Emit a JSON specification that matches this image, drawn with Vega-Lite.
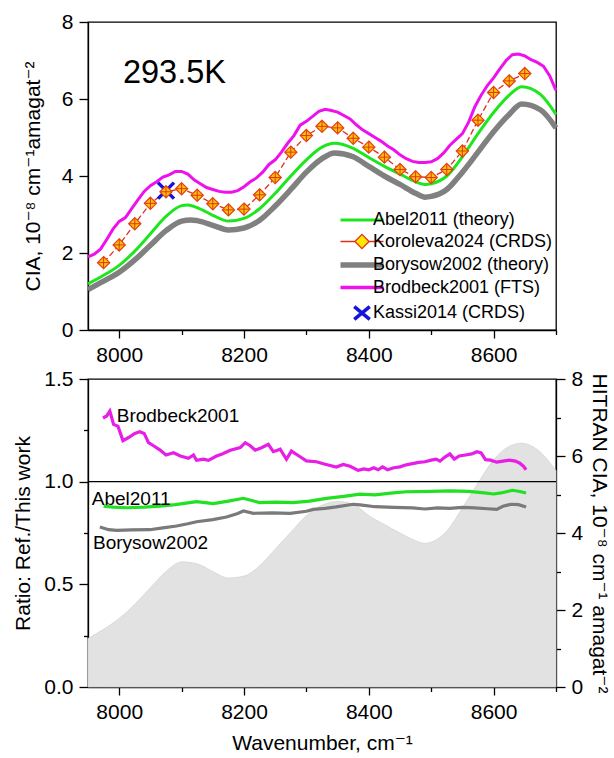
{
  "$schema": "https://vega.github.io/schema/vega-lite/v6.json",
  "background": "white",
  "padding": {"left": 12, "top": 10, "right": 2, "bottom": 2},
  "config": {
    "font": "Liberation Sans, DejaVu Sans",
    "view": {"stroke": "black", "strokeWidth": 1.3},
    "axis": {
      "domainColor": "black", "tickColor": "black", "labelColor": "black", "titleColor": "black",
      "labelFontSize": 21, "titleFontSize": 21, "titleFontWeight": "normal",
      "labelFont": "Liberation Sans, DejaVu Sans", "titleFont": "Liberation Sans, DejaVu Sans",
      "grid": false, "domainWidth": 1.3, "tickWidth": 1.3, "labelPadding": 6,
      "labelFlush": false, "labelOverlap": false
    },
    "text": {"font": "Liberation Sans, DejaVu Sans"}
  },
  "datasets": {
    "abel": [
      {"wn": 7950, "v": 1.20}, {"wn": 7975, "v": 1.42}, {"wn": 8000, "v": 1.68}, {"wn": 8025, "v": 2.05},
      {"wn": 8050, "v": 2.50}, {"wn": 8075, "v": 2.95}, {"wn": 8100, "v": 3.23}, {"wn": 8110, "v": 3.25},
      {"wn": 8125, "v": 3.18}, {"wn": 8150, "v": 2.98}, {"wn": 8175, "v": 2.83}, {"wn": 8200, "v": 2.90},
      {"wn": 8225, "v": 3.15}, {"wn": 8250, "v": 3.55}, {"wn": 8275, "v": 4.00}, {"wn": 8300, "v": 4.42},
      {"wn": 8325, "v": 4.75}, {"wn": 8345, "v": 4.85}, {"wn": 8375, "v": 4.72}, {"wn": 8400, "v": 4.48},
      {"wn": 8425, "v": 4.25}, {"wn": 8450, "v": 4.05}, {"wn": 8475, "v": 3.85}, {"wn": 8490, "v": 3.78},
      {"wn": 8500, "v": 3.80}, {"wn": 8525, "v": 4.00}, {"wn": 8550, "v": 4.50}, {"wn": 8575, "v": 5.10},
      {"wn": 8600, "v": 5.65}, {"wn": 8625, "v": 6.10}, {"wn": 8645, "v": 6.32}, {"wn": 8675, "v": 6.12},
      {"wn": 8700, "v": 5.60}
    ],
    "borysow": [
      {"wn": 7950, "v": 1.05}, {"wn": 7975, "v": 1.27}, {"wn": 8000, "v": 1.50}, {"wn": 8025, "v": 1.82},
      {"wn": 8050, "v": 2.20}, {"wn": 8075, "v": 2.58}, {"wn": 8100, "v": 2.83}, {"wn": 8115, "v": 2.86},
      {"wn": 8125, "v": 2.84}, {"wn": 8150, "v": 2.72}, {"wn": 8175, "v": 2.60}, {"wn": 8200, "v": 2.65},
      {"wn": 8225, "v": 2.85}, {"wn": 8250, "v": 3.22}, {"wn": 8275, "v": 3.65}, {"wn": 8300, "v": 4.10},
      {"wn": 8325, "v": 4.45}, {"wn": 8345, "v": 4.60}, {"wn": 8375, "v": 4.50}, {"wn": 8400, "v": 4.25},
      {"wn": 8425, "v": 4.00}, {"wn": 8450, "v": 3.78}, {"wn": 8475, "v": 3.55}, {"wn": 8490, "v": 3.45},
      {"wn": 8500, "v": 3.47}, {"wn": 8525, "v": 3.65}, {"wn": 8550, "v": 4.10}, {"wn": 8575, "v": 4.62},
      {"wn": 8600, "v": 5.15}, {"wn": 8625, "v": 5.60}, {"wn": 8645, "v": 5.87}, {"wn": 8675, "v": 5.72},
      {"wn": 8700, "v": 5.25}
    ],
    "brodbeck": [
      {"wn": 7950, "v": 1.90}, {"wn": 7960, "v": 1.97}, {"wn": 7970, "v": 2.10}, {"wn": 7980, "v": 2.35},
      {"wn": 7990, "v": 2.62}, {"wn": 8000, "v": 2.82}, {"wn": 8010, "v": 2.92}, {"wn": 8020, "v": 3.15},
      {"wn": 8030, "v": 3.38}, {"wn": 8040, "v": 3.60}, {"wn": 8050, "v": 3.75}, {"wn": 8060, "v": 3.85},
      {"wn": 8070, "v": 3.97}, {"wn": 8080, "v": 4.03}, {"wn": 8090, "v": 4.12}, {"wn": 8100, "v": 4.12},
      {"wn": 8110, "v": 4.05}, {"wn": 8120, "v": 3.90}, {"wn": 8130, "v": 3.80}, {"wn": 8140, "v": 3.70},
      {"wn": 8150, "v": 3.65}, {"wn": 8160, "v": 3.60}, {"wn": 8170, "v": 3.58}, {"wn": 8180, "v": 3.58},
      {"wn": 8190, "v": 3.62}, {"wn": 8200, "v": 3.72}, {"wn": 8210, "v": 3.85}, {"wn": 8220, "v": 3.95},
      {"wn": 8230, "v": 4.10}, {"wn": 8240, "v": 4.30}, {"wn": 8250, "v": 4.42}, {"wn": 8260, "v": 4.62},
      {"wn": 8270, "v": 4.85}, {"wn": 8280, "v": 5.05}, {"wn": 8290, "v": 5.32}, {"wn": 8300, "v": 5.42},
      {"wn": 8310, "v": 5.55}, {"wn": 8320, "v": 5.68}, {"wn": 8330, "v": 5.73}, {"wn": 8340, "v": 5.70},
      {"wn": 8350, "v": 5.66}, {"wn": 8360, "v": 5.57}, {"wn": 8370, "v": 5.48}, {"wn": 8380, "v": 5.33},
      {"wn": 8390, "v": 5.20}, {"wn": 8400, "v": 5.10}, {"wn": 8410, "v": 5.00}, {"wn": 8420, "v": 4.90},
      {"wn": 8430, "v": 4.78}, {"wn": 8440, "v": 4.68}, {"wn": 8450, "v": 4.55}, {"wn": 8460, "v": 4.45},
      {"wn": 8470, "v": 4.38}, {"wn": 8480, "v": 4.35}, {"wn": 8490, "v": 4.35}, {"wn": 8500, "v": 4.37},
      {"wn": 8510, "v": 4.45}, {"wn": 8520, "v": 4.60}, {"wn": 8530, "v": 4.80}, {"wn": 8540, "v": 4.95},
      {"wn": 8550, "v": 5.10}, {"wn": 8560, "v": 5.40}, {"wn": 8570, "v": 5.80}, {"wn": 8580, "v": 6.10},
      {"wn": 8590, "v": 6.35}, {"wn": 8600, "v": 6.55}, {"wn": 8610, "v": 6.78}, {"wn": 8620, "v": 7.00},
      {"wn": 8630, "v": 7.15}, {"wn": 8640, "v": 7.17}, {"wn": 8650, "v": 7.12}, {"wn": 8660, "v": 7.02},
      {"wn": 8670, "v": 6.95}, {"wn": 8680, "v": 6.85}, {"wn": 8690, "v": 6.60}, {"wn": 8700, "v": 6.22}
    ],
    "koroleva": [
      {"wn": 7975, "v": 1.75}, {"wn": 8000, "v": 2.21}, {"wn": 8025, "v": 2.76}, {"wn": 8050, "v": 3.29},
      {"wn": 8075, "v": 3.59}, {"wn": 8100, "v": 3.67}, {"wn": 8125, "v": 3.50}, {"wn": 8150, "v": 3.28},
      {"wn": 8175, "v": 3.12}, {"wn": 8200, "v": 3.14}, {"wn": 8225, "v": 3.51}, {"wn": 8250, "v": 3.96},
      {"wn": 8275, "v": 4.62}, {"wn": 8300, "v": 5.05}, {"wn": 8325, "v": 5.29}, {"wn": 8350, "v": 5.25},
      {"wn": 8375, "v": 4.98}, {"wn": 8400, "v": 4.75}, {"wn": 8425, "v": 4.49}, {"wn": 8450, "v": 4.17},
      {"wn": 8475, "v": 3.98}, {"wn": 8500, "v": 3.96}, {"wn": 8525, "v": 4.17}, {"wn": 8550, "v": 4.65},
      {"wn": 8575, "v": 5.45}, {"wn": 8600, "v": 6.17}, {"wn": 8625, "v": 6.47}, {"wn": 8650, "v": 6.66}
    ],
    "kassi": [{"wn": 8075, "v": 3.62}],
    "hitran": [
      {"wn": 7950, "v": 1.26}, {"wn": 7975, "v": 1.50}, {"wn": 8000, "v": 1.78}, {"wn": 8025, "v": 2.15},
      {"wn": 8050, "v": 2.58}, {"wn": 8075, "v": 3.00}, {"wn": 8100, "v": 3.25}, {"wn": 8125, "v": 3.20},
      {"wn": 8150, "v": 3.00}, {"wn": 8175, "v": 2.83}, {"wn": 8200, "v": 2.88}, {"wn": 8225, "v": 3.15},
      {"wn": 8250, "v": 3.58}, {"wn": 8275, "v": 4.02}, {"wn": 8300, "v": 4.45}, {"wn": 8325, "v": 4.72},
      {"wn": 8350, "v": 4.82}, {"wn": 8375, "v": 4.75}, {"wn": 8400, "v": 4.45}, {"wn": 8425, "v": 4.22},
      {"wn": 8450, "v": 4.00}, {"wn": 8475, "v": 3.80}, {"wn": 8490, "v": 3.73}, {"wn": 8500, "v": 3.76},
      {"wn": 8525, "v": 4.05}, {"wn": 8550, "v": 4.65}, {"wn": 8575, "v": 5.30}, {"wn": 8600, "v": 5.90},
      {"wn": 8625, "v": 6.25}, {"wn": 8645, "v": 6.33}, {"wn": 8675, "v": 6.10}, {"wn": 8700, "v": 5.62}
    ],
    "labels": [
      {"name": "Brodbeck2001", "wn": 7996, "r": 1.32},
      {"name": "Abel2011", "wn": 7956, "r": 0.914},
      {"name": "Borysow2002", "wn": 7958, "r": 0.703}
    ],
    "ratio": [
      {"series": "Brodbeck2001", "wn": 7974, "r": 1.31}, {"series": "Brodbeck2001", "wn": 7980, "r": 1.32},
      {"series": "Brodbeck2001", "wn": 7985, "r": 1.344}, {"series": "Brodbeck2001", "wn": 7991, "r": 1.279},
      {"series": "Brodbeck2001", "wn": 7998, "r": 1.27}, {"series": "Brodbeck2001", "wn": 8006, "r": 1.20},
      {"series": "Brodbeck2001", "wn": 8015, "r": 1.215}, {"series": "Brodbeck2001", "wn": 8025, "r": 1.235},
      {"series": "Brodbeck2001", "wn": 8033, "r": 1.243}, {"series": "Brodbeck2001", "wn": 8040, "r": 1.235},
      {"series": "Brodbeck2001", "wn": 8047, "r": 1.19}, {"series": "Brodbeck2001", "wn": 8055, "r": 1.175},
      {"series": "Brodbeck2001", "wn": 8065, "r": 1.155}, {"series": "Brodbeck2001", "wn": 8075, "r": 1.13},
      {"series": "Brodbeck2001", "wn": 8087, "r": 1.141}, {"series": "Brodbeck2001", "wn": 8098, "r": 1.125},
      {"series": "Brodbeck2001", "wn": 8111, "r": 1.114}, {"series": "Brodbeck2001", "wn": 8119, "r": 1.13},
      {"series": "Brodbeck2001", "wn": 8124, "r": 1.104}, {"series": "Brodbeck2001", "wn": 8135, "r": 1.11},
      {"series": "Brodbeck2001", "wn": 8143, "r": 1.104}, {"series": "Brodbeck2001", "wn": 8156, "r": 1.125},
      {"series": "Brodbeck2001", "wn": 8165, "r": 1.135}, {"series": "Brodbeck2001", "wn": 8178, "r": 1.153},
      {"series": "Brodbeck2001", "wn": 8194, "r": 1.166}, {"series": "Brodbeck2001", "wn": 8202, "r": 1.19},
      {"series": "Brodbeck2001", "wn": 8210, "r": 1.175}, {"series": "Brodbeck2001", "wn": 8218, "r": 1.153},
      {"series": "Brodbeck2001", "wn": 8228, "r": 1.165}, {"series": "Brodbeck2001", "wn": 8239, "r": 1.182},
      {"series": "Brodbeck2001", "wn": 8247, "r": 1.146}, {"series": "Brodbeck2001", "wn": 8258, "r": 1.158},
      {"series": "Brodbeck2001", "wn": 8268, "r": 1.109}, {"series": "Brodbeck2001", "wn": 8276, "r": 1.149},
      {"series": "Brodbeck2001", "wn": 8288, "r": 1.125}, {"series": "Brodbeck2001", "wn": 8300, "r": 1.101},
      {"series": "Brodbeck2001", "wn": 8316, "r": 1.097}, {"series": "Brodbeck2001", "wn": 8330, "r": 1.085},
      {"series": "Brodbeck2001", "wn": 8348, "r": 1.071}, {"series": "Brodbeck2001", "wn": 8359, "r": 1.084},
      {"series": "Brodbeck2001", "wn": 8370, "r": 1.075}, {"series": "Brodbeck2001", "wn": 8383, "r": 1.055},
      {"series": "Brodbeck2001", "wn": 8392, "r": 1.062}, {"series": "Brodbeck2001", "wn": 8400, "r": 1.058},
      {"series": "Brodbeck2001", "wn": 8408, "r": 1.068}, {"series": "Brodbeck2001", "wn": 8415, "r": 1.058},
      {"series": "Brodbeck2001", "wn": 8422, "r": 1.072}, {"series": "Brodbeck2001", "wn": 8430, "r": 1.058},
      {"series": "Brodbeck2001", "wn": 8440, "r": 1.068}, {"series": "Brodbeck2001", "wn": 8450, "r": 1.072},
      {"series": "Brodbeck2001", "wn": 8460, "r": 1.082}, {"series": "Brodbeck2001", "wn": 8470, "r": 1.088},
      {"series": "Brodbeck2001", "wn": 8480, "r": 1.094}, {"series": "Brodbeck2001", "wn": 8490, "r": 1.097},
      {"series": "Brodbeck2001", "wn": 8500, "r": 1.105}, {"series": "Brodbeck2001", "wn": 8508, "r": 1.11},
      {"series": "Brodbeck2001", "wn": 8514, "r": 1.10}, {"series": "Brodbeck2001", "wn": 8522, "r": 1.12},
      {"series": "Brodbeck2001", "wn": 8530, "r": 1.135}, {"series": "Brodbeck2001", "wn": 8537, "r": 1.11},
      {"series": "Brodbeck2001", "wn": 8545, "r": 1.125}, {"series": "Brodbeck2001", "wn": 8555, "r": 1.13},
      {"series": "Brodbeck2001", "wn": 8565, "r": 1.135}, {"series": "Brodbeck2001", "wn": 8573, "r": 1.146},
      {"series": "Brodbeck2001", "wn": 8580, "r": 1.14}, {"series": "Brodbeck2001", "wn": 8587, "r": 1.107},
      {"series": "Brodbeck2001", "wn": 8595, "r": 1.105}, {"series": "Brodbeck2001", "wn": 8605, "r": 1.095},
      {"series": "Brodbeck2001", "wn": 8615, "r": 1.10}, {"series": "Brodbeck2001", "wn": 8625, "r": 1.105},
      {"series": "Brodbeck2001", "wn": 8635, "r": 1.10}, {"series": "Brodbeck2001", "wn": 8642, "r": 1.09},
      {"series": "Brodbeck2001", "wn": 8648, "r": 1.075}, {"series": "Brodbeck2001", "wn": 8652, "r": 1.058},
      {"series": "Abel2011", "wn": 7975, "r": 0.881}, {"series": "Abel2011", "wn": 7990, "r": 0.876},
      {"series": "Abel2011", "wn": 8012, "r": 0.873}, {"series": "Abel2011", "wn": 8040, "r": 0.876},
      {"series": "Abel2011", "wn": 8065, "r": 0.881}, {"series": "Abel2011", "wn": 8090, "r": 0.888},
      {"series": "Abel2011", "wn": 8110, "r": 0.897}, {"series": "Abel2011", "wn": 8124, "r": 0.903},
      {"series": "Abel2011", "wn": 8151, "r": 0.893}, {"series": "Abel2011", "wn": 8175, "r": 0.905},
      {"series": "Abel2011", "wn": 8199, "r": 0.919}, {"series": "Abel2011", "wn": 8225, "r": 0.898},
      {"series": "Abel2011", "wn": 8250, "r": 0.90}, {"series": "Abel2011", "wn": 8279, "r": 0.898},
      {"series": "Abel2011", "wn": 8305, "r": 0.905}, {"series": "Abel2011", "wn": 8332, "r": 0.919},
      {"series": "Abel2011", "wn": 8360, "r": 0.928}, {"series": "Abel2011", "wn": 8386, "r": 0.939},
      {"series": "Abel2011", "wn": 8410, "r": 0.936}, {"series": "Abel2011", "wn": 8435, "r": 0.944},
      {"series": "Abel2011", "wn": 8460, "r": 0.951}, {"series": "Abel2011", "wn": 8500, "r": 0.953},
      {"series": "Abel2011", "wn": 8530, "r": 0.955}, {"series": "Abel2011", "wn": 8560, "r": 0.953},
      {"series": "Abel2011", "wn": 8585, "r": 0.945}, {"series": "Abel2011", "wn": 8600, "r": 0.94},
      {"series": "Abel2011", "wn": 8612, "r": 0.945}, {"series": "Abel2011", "wn": 8630, "r": 0.958},
      {"series": "Abel2011", "wn": 8642, "r": 0.952}, {"series": "Abel2011", "wn": 8652, "r": 0.945},
      {"series": "Borysow2002", "wn": 7969, "r": 0.779}, {"series": "Borysow2002", "wn": 7983, "r": 0.766},
      {"series": "Borysow2002", "wn": 7996, "r": 0.763}, {"series": "Borysow2002", "wn": 8020, "r": 0.765},
      {"series": "Borysow2002", "wn": 8049, "r": 0.766}, {"series": "Borysow2002", "wn": 8070, "r": 0.775},
      {"series": "Borysow2002", "wn": 8092, "r": 0.784}, {"series": "Borysow2002", "wn": 8110, "r": 0.795},
      {"series": "Borysow2002", "wn": 8124, "r": 0.805}, {"series": "Borysow2002", "wn": 8150, "r": 0.815},
      {"series": "Borysow2002", "wn": 8172, "r": 0.828}, {"series": "Borysow2002", "wn": 8190, "r": 0.845},
      {"series": "Borysow2002", "wn": 8199, "r": 0.857}, {"series": "Borysow2002", "wn": 8215, "r": 0.846},
      {"series": "Borysow2002", "wn": 8245, "r": 0.848}, {"series": "Borysow2002", "wn": 8274, "r": 0.846},
      {"series": "Borysow2002", "wn": 8300, "r": 0.856}, {"series": "Borysow2002", "wn": 8311, "r": 0.865},
      {"series": "Borysow2002", "wn": 8330, "r": 0.87}, {"series": "Borysow2002", "wn": 8348, "r": 0.877},
      {"series": "Borysow2002", "wn": 8375, "r": 0.89}, {"series": "Borysow2002", "wn": 8386, "r": 0.887},
      {"series": "Borysow2002", "wn": 8410, "r": 0.878}, {"series": "Borysow2002", "wn": 8440, "r": 0.875},
      {"series": "Borysow2002", "wn": 8470, "r": 0.872}, {"series": "Borysow2002", "wn": 8490, "r": 0.867},
      {"series": "Borysow2002", "wn": 8510, "r": 0.872}, {"series": "Borysow2002", "wn": 8530, "r": 0.87},
      {"series": "Borysow2002", "wn": 8550, "r": 0.875}, {"series": "Borysow2002", "wn": 8570, "r": 0.872},
      {"series": "Borysow2002", "wn": 8590, "r": 0.868}, {"series": "Borysow2002", "wn": 8605, "r": 0.865},
      {"series": "Borysow2002", "wn": 8615, "r": 0.88}, {"series": "Borysow2002", "wn": 8628, "r": 0.89},
      {"series": "Borysow2002", "wn": 8640, "r": 0.888}, {"series": "Borysow2002", "wn": 8652, "r": 0.877}
    ]
  },
  "vconcat": [
    {
      "width": 468,
      "height": 308,
      "layer": [
        {
          "data": {"name": "borysow"},
          "mark": {"type": "line", "strokeWidth": 5.5, "interpolate": "monotone"},
          "encoding": {
            "x": {"field": "wn", "type": "quantitative", "scale": {"domain": [7950, 8700], "nice": false, "zero": false},
              "axis": {"title": null, "values": [8000, 8100, 8200, 8300, 8400, 8500, 8600, 8700], "format": "d",
                "labelExpr": "datum.value % 200 === 0 ? datum.label : ''",
                "tickSize": {"condition": {"test": "datum.value % 200 === 0", "value": 8}, "value": 4.5}}},
            "y": {"field": "v", "type": "quantitative", "scale": {"domain": [0, 8], "nice": false},
              "axis": {"title": "CIA, 10⁻⁸ cm⁻¹amagat⁻²", "values": [0, 1, 2, 3, 4, 5, 6, 7, 8],
                "labelExpr": "datum.value % 2 === 0 ? datum.label : ''", "titlePadding": 18,
                "tickSize": {"condition": {"test": "datum.value % 2 === 0", "value": 9}, "value": 4.5}}},
            "stroke": {"datum": "Borysow2002 (theory)", "type": "nominal",
              "scale": {"domain": ["Abel2011 (theory)", "Koroleva2024 (CRDS)", "Borysow2002 (theory)", "Brodbeck2001 (FTS)", "Kassi2014 (CRDS)"],
                "range": ["#1ee61e", "#e0301c", "#808080", "#ee11ee", "#1414dc"]},
              "legend": {
                "title": null, "orient": "bottom-right", "offset": 3, "labelFontSize": 18, "labelColor": "black",
                "labelFont": "Liberation Sans, DejaVu Sans", "labelLimit": 400, "symbolSize": 1849, "symbolStrokeWidth": 2,
                "labelOffset": 2, "rowPadding": 2.5, "padding": 0,
                "encode": {
                  "symbols": {
                    "update": {
                      "shape": {"signal": "datum.value === 'Kassi2014 (CRDS)' ? 'M-0.36,-0.3L0.36,0.3M-0.36,0.3L0.36,-0.3' : (datum.value === 'Koroleva2024 (CRDS)' ? 'M-1,0H-0.33M0.33,0H1M0,-0.33L0.33,0L0,0.33L-0.33,0Z' : 'M-1,0H1')"},
                      "fill": {"signal": "datum.value === 'Koroleva2024 (CRDS)' ? '#ffe600' : 'transparent'"},
                      "size": {"value": 1849},
                      "strokeWidth": {"signal": "datum.value === 'Borysow2002 (theory)' ? 5.5 : (datum.value === 'Brodbeck2001 (FTS)' ? 3.5 : (datum.value === 'Kassi2014 (CRDS)' ? 3.5 : (datum.value === 'Abel2011 (theory)' ? 2.8 : 1.3)))"},
                      "opacity": {"value": 1}
                    }
                  }
                }
              }
            }
          }
        },
        {
          "data": {"name": "abel"},
          "mark": {"type": "line", "strokeWidth": 3, "interpolate": "monotone"},
          "encoding": {
            "x": {"field": "wn", "type": "quantitative"},
            "y": {"field": "v", "type": "quantitative"},
            "stroke": {"datum": "Abel2011 (theory)", "type": "nominal"}
          }
        },
        {
          "data": {"name": "brodbeck"},
          "mark": {"type": "line", "strokeWidth": 3},
          "encoding": {
            "x": {"field": "wn", "type": "quantitative"},
            "y": {"field": "v", "type": "quantitative"},
            "stroke": {"datum": "Brodbeck2001 (FTS)", "type": "nominal"}
          }
        },
        {
          "data": {"name": "koroleva"},
          "mark": {"type": "line", "strokeWidth": 1.3, "strokeDash": [6, 3]},
          "encoding": {
            "x": {"field": "wn", "type": "quantitative"},
            "y": {"field": "v", "type": "quantitative"},
            "stroke": {"datum": "Koroleva2024 (CRDS)", "type": "nominal"}
          }
        },
        {
          "data": {"name": "kassi"},
          "mark": {"type": "point", "shape": "M-1,-1L1,1M-1,1L1,-1", "size": 256, "strokeWidth": 3.5, "opacity": 1, "filled": false},
          "encoding": {
            "x": {"field": "wn", "type": "quantitative"},
            "y": {"field": "v", "type": "quantitative"},
            "stroke": {"datum": "Kassi2014 (CRDS)", "type": "nominal"}
          }
        },
        {
          "data": {"name": "koroleva"},
          "mark": {"type": "point", "shape": "M0,-1L1,0L0,1L-1,0Z", "size": 150, "fill": "#ffc400", "stroke": "#e0401a", "strokeWidth": 1.2, "opacity": 1, "filled": true},
          "encoding": {
            "x": {"field": "wn", "type": "quantitative"},
            "y": {"field": "v", "type": "quantitative"}
          }
        },
        {
          "data": {"name": "koroleva"},
          "mark": {"type": "point", "shape": "M0,-1V1M-1,0H1", "size": 110, "stroke": "#e0301c", "strokeWidth": 1, "opacity": 1, "filled": false},
          "encoding": {
            "x": {"field": "wn", "type": "quantitative"},
            "y": {"field": "v", "type": "quantitative"}
          }
        },
        {
          "data": {"values": [{"label": "293.5K"}]},
          "mark": {"type": "text", "fontSize": 32.5, "align": "left", "baseline": "alphabetic", "color": "black"},
          "encoding": {
            "text": {"field": "label", "type": "nominal"},
            "x": {"datum": 8006, "type": "quantitative"},
            "y": {"datum": 6.41, "type": "quantitative"}
          }
        }
      ]
    },
    {
      "width": 468,
      "height": 308,
      "layer": [
        {
          "data": {"name": "hitran"},
          "mark": {"type": "area", "color": "#e2e2e2", "stroke": "#d4d4d4", "strokeWidth": 0.8, "interpolate": "monotone"},
          "encoding": {
            "x": {"field": "wn", "type": "quantitative", "scale": {"domain": [7950, 8700], "nice": false, "zero": false},
              "axis": {"title": "Wavenumber, cm⁻¹", "titlePadding": 10, "values": [8000, 8100, 8200, 8300, 8400, 8500, 8600, 8700], "format": "d",
                "labelExpr": "datum.value % 200 === 0 ? datum.label : ''",
                "tickSize": {"condition": {"test": "datum.value % 200 === 0", "value": 8}, "value": 4.5}}},
            "y": {"field": "v", "type": "quantitative", "scale": {"domain": [0, 8], "nice": false},
              "axis": {"orient": "right", "title": "HITRAN CIA, 10⁻⁸ cm⁻¹ amagat⁻²", "titlePadding": 6,
                "values": [0, 1, 2, 3, 4, 5, 6, 7, 8],
                "labelExpr": "datum.value % 2 === 0 ? datum.label : ''",
                "tickSize": {"condition": {"test": "datum.value % 2 === 0", "value": 9}, "value": 4.5}}}
          }
        },
        {
          "layer": [
            {
              "data": {"name": "ratio"},
              "mark": {"type": "line", "strokeWidth": 3.2},
              "encoding": {
                "x": {"field": "wn", "type": "quantitative", "scale": {"domain": [7950, 8700], "nice": false, "zero": false}},
                "y": {"field": "r", "type": "quantitative", "scale": {"domain": [0, 1.5], "nice": false},
                  "axis": {"orient": "left", "title": "Ratio: Ref./This work", "titlePadding": 10,
                    "values": [0, 0.25, 0.5, 0.75, 1, 1.25, 1.5], "format": ".1f",
                    "labelExpr": "datum.value % 0.5 === 0 ? datum.label : ''",
                    "tickSize": {"condition": {"test": "datum.value % 0.5 === 0", "value": 9}, "value": 4.5}}},
                "color": {"field": "series", "type": "nominal", "legend": null,
                  "scale": {"domain": ["Brodbeck2001", "Abel2011", "Borysow2002"], "range": ["#e61ee6", "#22e022", "#7a7a7a"]}}
              }
            },
            {
              "data": {"values": [{"r": 1}]},
              "mark": {"type": "rule", "color": "black", "strokeWidth": 1.3},
              "encoding": {"y": {"field": "r", "type": "quantitative"}}
            },
            {
              "data": {"name": "labels"},
              "mark": {"type": "text", "fontSize": 19, "align": "left", "baseline": "middle", "color": "black"},
              "encoding": {
                "text": {"field": "name", "type": "nominal"},
                "x": {"field": "wn", "type": "quantitative"},
                "y": {"field": "r", "type": "quantitative"}
              }
            }
          ]
        }
      ],
      "resolve": {"scale": {"y": "independent"}, "axis": {"y": "independent"}}
    }
  ],
  "resolve": {"scale": {"stroke": "independent", "color": "independent"}, "legend": {"stroke": "independent", "color": "independent"}},
  "spacing": 49,
  "bounds": "flush"
}
